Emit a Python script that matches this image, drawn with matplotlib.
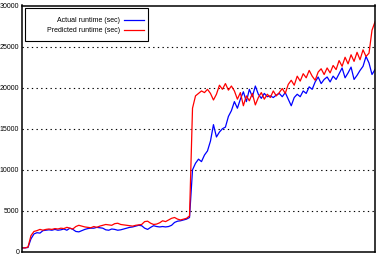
import matplotlib.pyplot as plt
from matplotlib.patches import Rectangle
from matplotlib.lines import Line2D

# runtime samples (sec)
actual = [500, 500, 550, 1600, 2200, 2350, 2300, 2600, 2650, 2700,
          2650, 2750, 2650, 2700, 2800, 2650, 2900, 2750, 2500, 2450,
          2600, 2750, 2850, 2900, 2900, 3000, 2950, 2900, 2700, 2650,
          2800, 2750, 2650, 2700, 2800, 2900, 3000, 3050, 3150, 3250,
          3200, 2900, 2750, 3000, 3200, 3100, 3050, 3100, 3050, 3100,
          3250, 3600, 3750, 3800, 3900, 4000, 4200, 10000, 10800, 11300,
          11000, 11800, 12300, 13500, 15500, 14000, 14600, 15000, 15200, 16500,
          17200, 18300, 17500, 18600, 19500, 18300, 19800, 18900, 20200, 19200,
          18700, 19300, 18900, 19000, 18800, 19100, 19300, 18900, 19400, 18600,
          17800, 18800, 19200, 18900, 19600, 19300, 20100, 19800, 20700, 21300,
          20500, 21000, 21300, 20700, 21400, 21000, 21700, 22400, 21200, 21800,
          22500, 21000, 21500, 22100, 22600, 23800, 23000, 21600, 22200]

predicted = [500, 500, 600, 2000, 2500, 2600, 2750, 2650, 2750, 2800,
             2750, 2850, 2800, 2900, 2850, 3000, 2900, 2800, 3100, 3250,
             3150, 3050, 3000, 2950, 3100, 3000, 3150, 3250, 3350, 3300,
             3250, 3450, 3500, 3350, 3300, 3250, 3200, 3150, 3250, 3300,
             3350, 3700, 3750, 3500, 3350, 3400, 3550, 3800, 3700, 3900,
             4100, 4200, 4000, 3900, 4000, 4100, 4400, 17500, 19000, 19300,
             19600, 19400, 19800, 19300, 18500, 19200, 20300, 19800, 20500, 19700,
             20200, 19600, 18600, 19400, 17800, 19000, 18400, 19300, 17900, 18800,
             19400, 18600, 19200, 18800, 19600, 19000, 19400, 19900, 19300, 20400,
             20900, 20300, 21400, 20800, 21700, 21200, 22100, 21400, 20900, 21900,
             22300, 21600, 22400, 21800, 22700, 22200, 23300, 22600, 23700, 22900,
             24000, 23200, 24300, 23400, 24600, 23800, 24200, 27000, 28000]

labels = ['Actual runtime (sec)', 'Predicted runtime (sec)']
colors = ['#0000ff', '#ff0000']
yticks = [0, 5000, 10000, 15000, 20000, 25000, 30000]

plt.rcParams['font.family'] = ['Liberation Sans', 'DejaVu Sans']

W, H = 378, 268
fig = plt.figure(figsize=(W / 100, H / 100), dpi=100)
ax = fig.add_axes([22 / W, 1 - 252 / H, 353 / W, 246.5 / H])

x = list(range(len(actual)))
for ys, c in zip([actual, predicted], colors):
    ax.plot(x, ys, color=c, linewidth=0.9)

ax.set_xlim(0, len(actual) - 1)
ax.set_ylim(0, 30000)
ax.set_xticks([])
ax.set_yticks(yticks)
ax.set_yticklabels([str(v) for v in yticks], fontsize=5)
ax.tick_params(axis='y', length=0, pad=2)
for v in yticks[1:-1]:
    ax.axhline(v, color='black', linestyle=(0, (1.2, 3)), linewidth=0.8, zorder=0)
for s in ax.spines.values():
    s.set_linewidth(1.1)

# gnuplot-style key: text right aligned, sample line after it
def fx(px):
    return px / W

def fy(py):
    return 1 - py / H

fig.add_artist(Rectangle((fx(25), fy(41)), fx(148) - fx(25), fy(8) - fy(41),
                         transform=fig.transFigure, facecolor='white',
                         edgecolor='black', linewidth=0.8, zorder=5))
for row, (lab, c) in enumerate(zip(labels, colors)):
    yy = fy(20 + 10 * row)
    fig.text(fx(120), yy, lab, ha='right', va='center', fontsize=5, zorder=6)
    fig.add_artist(Line2D([fx(124), fx(144)], [yy, yy], color=c,
                          linewidth=0.9, transform=fig.transFigure, zorder=6))

fig.savefig('out.png', dpi=100)
